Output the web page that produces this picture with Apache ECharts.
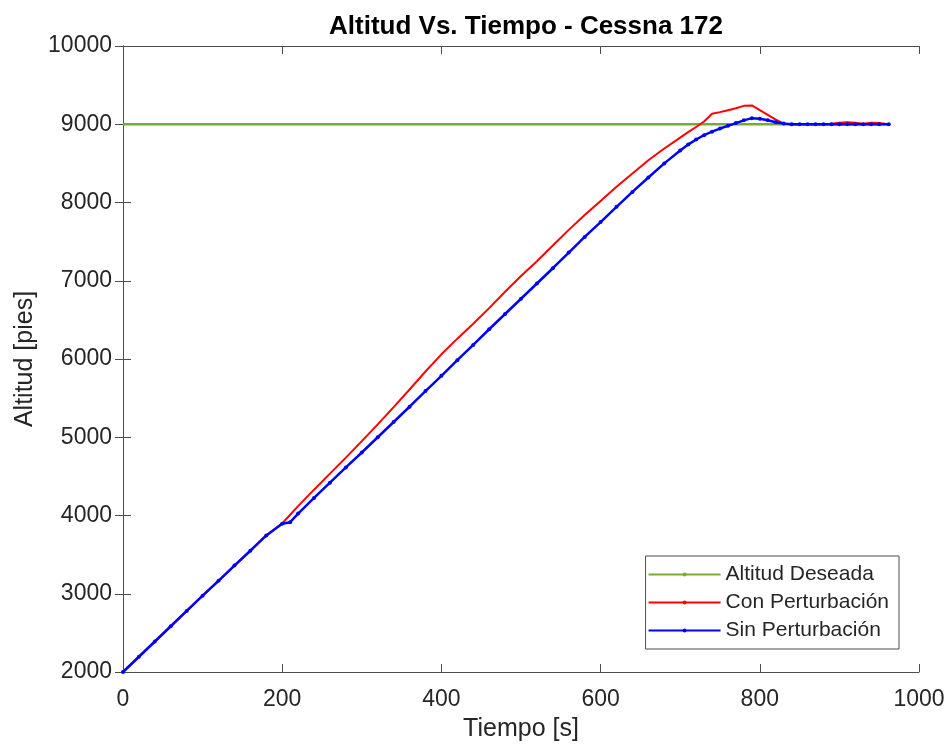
<!DOCTYPE html>
<html>
<head>
<meta charset="utf-8">
<script src="https://cdn.jsdelivr.net/npm/echarts@6/dist/echarts.min.js"></script>
<style>
  html, body { margin: 0; padding: 0; background: #fff; }
  #main { width: 949px; height: 749px; }
</style>
</head>
<body>
<div id="main"></div>
<script>
// tiempo [s]
var tiempo = [0, 20, 40, 60, 80, 100, 120, 140, 160, 180, 200, 210, 220, 240, 260, 280, 300,
  320, 340, 360, 380, 400, 420, 440, 460, 480, 500, 520, 540, 560, 580, 600, 620, 640, 660,
  680, 700, 710, 720, 730, 740, 750, 760, 770, 780, 790, 800, 810, 820, 830, 840, 850, 860,
  870, 880, 890, 900, 910, 920, 930, 940, 950, 962];

// altitud deseada [pies]
var deseada = [9000, 9000];
var tiempoDeseada = [0, 962];

// con perturbacion
var conPert = [2000, 2195, 2390, 2585, 2780, 2975, 3165, 3360, 3550, 3745, 3900, 4010, 4120,
  4330, 4535, 4740, 4950, 5165, 5385, 5610, 5840, 6060, 6260, 6450, 6650, 6860, 7060, 7250,
  7450, 7650, 7840, 8020, 8200, 8370, 8540, 8690, 8830, 8900, 8965, 9035, 9135, 9155, 9180,
  9205, 9235, 9240, 9180, 9120, 9060, 9010, 9000, 9000, 9000, 9000, 9000, 9005, 9020, 9025,
  9020, 9005, 9020, 9015, 9000];

// sin perturbacion
var sinPert = [2000, 2195, 2390, 2585, 2780, 2975, 3165, 3360, 3550, 3745, 3895, 3915, 4025,
  4225, 4420, 4615, 4805, 5000, 5195, 5390, 5590, 5785, 5985, 6180, 6380, 6575, 6770, 6965,
  7160, 7360, 7560, 7750, 7945, 8135, 8320, 8500, 8665, 8740, 8805, 8860, 8905, 8945, 8980,
  9015, 9050, 9078, 9070, 9050, 9025, 9008, 9000, 9000, 9000, 9000, 9000, 9000, 9000, 9000,
  9000, 9000, 9000, 9000, 9000];

function pares(xs, ys) {
  var out = [];
  for (var i = 0; i < xs.length; i++) out.push([xs[i], ys[i]]);
  return out;
}

var fuente = 'Liberation Sans, Arial, sans-serif';
var ejeColor = '#4d4d4d';
var textoColor = '#262626';

var myChart = echarts.init(document.getElementById('main'));
var option = {
  backgroundColor: '#fff',
  animation: false,
  title: {
    text: 'Altitud Vs. Tiempo - Cessna 172',
    left: 521,
    textAlign: 'center',
    top: 9,
    textStyle: { fontFamily: fuente, fontSize: 26, fontWeight: 'bold', color: '#000' }
  },
  legend: {
    orient: 'vertical',
    right: 50,
    top: 556,
    itemWidth: 72,
    itemHeight: 5,
    itemGap: 7,
    padding: [8, 10, 8, 2],
    borderColor: ejeColor,
    borderWidth: 1,
    backgroundColor: '#fff',
    textStyle: { fontFamily: fuente, fontSize: 21, color: textoColor },
    data: ['Altitud Deseada', 'Con Perturbación', 'Sin Perturbación']
  },
  grid: { left: 123, top: 46, right: 30, bottom: 77 },
  xAxis: [{
    type: 'value', min: 0, max: 1000, interval: 200,
    name: 'Tiempo [s]', nameLocation: 'middle', nameGap: 45,
    nameTextStyle: { fontFamily: fuente, fontSize: 25, color: textoColor },
    axisLine: { lineStyle: { color: ejeColor } },
    axisTick: { inside: true, length: 8, lineStyle: { color: ejeColor } },
    axisLabel: { fontFamily: fuente, fontSize: 23, color: textoColor, margin: 16,
      formatter: function (v) { return String(v); } },
    splitLine: { show: false }
  }, {
    type: 'value', min: 0, max: 1000, interval: 200, position: 'top',
    axisLine: { show: true, lineStyle: { color: ejeColor } },
    axisTick: { show: true, inside: true, length: 8, lineStyle: { color: ejeColor } },
    axisLabel: { show: false },
    splitLine: { show: false }
  }],
  yAxis: [{
    type: 'value', min: 2000, max: 10000, interval: 1000,
    name: 'Altitud [pies]', nameLocation: 'middle', nameGap: 69,
    nameTextStyle: { fontFamily: fuente, fontSize: 25, color: textoColor },
    axisLine: { show: true, lineStyle: { color: ejeColor } },
    axisTick: { show: true, inside: true, length: 8, lineStyle: { color: ejeColor } },
    axisLabel: { fontFamily: fuente, fontSize: 23, color: textoColor, margin: 11,
      formatter: function (v) { return String(v); } },
    splitLine: { show: false }
  }, {
    type: 'value', min: 2000, max: 10000, interval: 1000, position: 'right',
    axisLine: { show: true, lineStyle: { color: ejeColor } },
    axisTick: { show: true, inside: true, length: 8, lineStyle: { color: ejeColor } },
    axisLabel: { show: false },
    splitLine: { show: false }
  }],
  series: [{
    name: 'Altitud Deseada',
    type: 'line',
    data: pares(tiempoDeseada, deseada),
    symbol: 'circle', symbolSize: 2, showSymbol: false,
    color: '#77AC30',
    lineStyle: { width: 2.5, color: '#77AC30' }
  }, {
    name: 'Con Perturbación',
    type: 'line',
    data: pares(tiempo, conPert),
    symbol: 'circle', symbolSize: 3, showSymbol: false,
    color: '#ff0000',
    lineStyle: { width: 2, color: '#ff0000' }
  }, {
    name: 'Sin Perturbación',
    type: 'line',
    data: pares(tiempo, sinPert),
    symbol: 'circle', symbolSize: 4,
    color: '#0000ff',
    itemStyle: { color: '#0000ff' },
    lineStyle: { width: 2.5, color: '#0000ff' }
  }]
};
myChart.setOption(option);
</script>
</body>
</html>
